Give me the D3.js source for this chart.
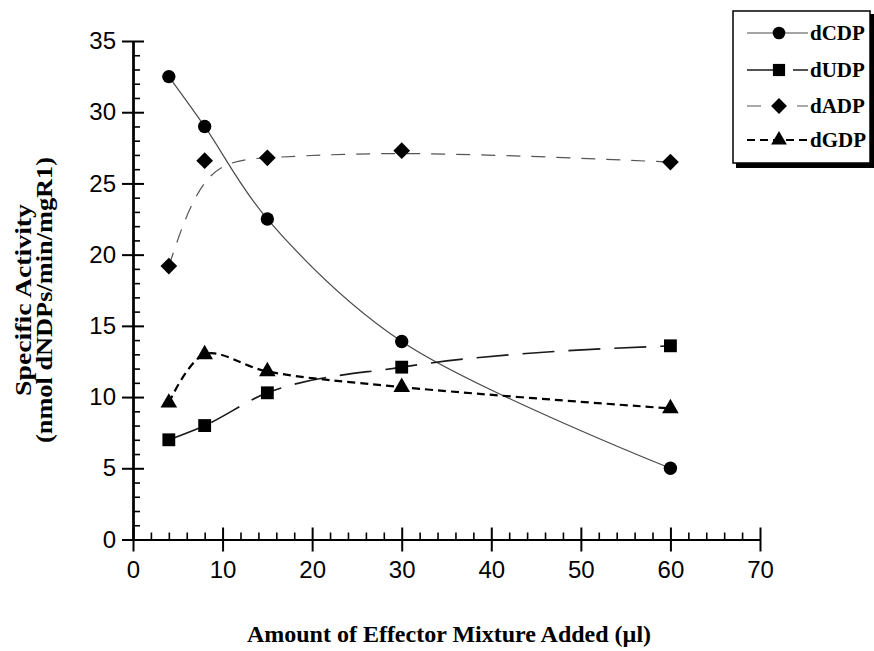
<!DOCTYPE html>
<html>
<head>
<meta charset="utf-8">
<script src="https://cdn.jsdelivr.net/npm/d3@7"></script>
<style>
  html, body { margin: 0; padding: 0; background: #fff; }
  svg { display: block; }
</style>
</head>
<body>
<svg id="chart" width="874" height="651"></svg>
<script>
// Effector volume (µl) on the x axis
const volumes = [4, 8, 15, 30, 60];

// Specific activity (nmol dNDPs/min/mgR1) per product
const dCDP = [32.5, 29.0, 22.5, 13.9, 5.0];
const dUDP = [7.0, 8.0, 10.3, 12.1, 13.6];
const dADP = [19.2, 26.6, 26.8, 27.3, 26.5];
const dGDP = [9.6, 13.0, 11.8, 10.7, 9.2];

const seriesNames = ["dCDP", "dUDP", "dADP", "dGDP"];

const xTicks = [0, 10, 20, 30, 40, 50, 60, 70];
const xMinorTicks = d3.range(0, 71, 2).filter(v => v % 10 !== 0);
const yTicks = [0, 5, 10, 15, 20, 25, 30, 35];
const yMinorTicks = d3.range(0, 36, 1).filter(v => v % 5 !== 0);

const xTitle = "Amount of Effector Mixture Added (µl)";
const yTitleLines = ["Specific Activity", "(nmol dNDPs/min/mgR1)"];

const svg = d3.select("#chart");
svg.append("rect").attr("width", 874).attr("height", 651).attr("fill", "#fff");

const x = d3.scaleLinear().domain([0, 70]).range([133, 760]);
const y = d3.scaleLinear().domain([0, 35]).range([539.5, 41]);

const sansFont = "'Liberation Sans', Arial, Helvetica, sans-serif";
const serifFont = "'Liberation Serif', 'Times New Roman', Times, serif";

// Per-series drawing styles
const styles = {
  dCDP: { data: dCDP, symbol: d3.symbolCircle, size: 140, rotate: 0, dash: null, width: 1.2, color: "#4a4a4a", curve: d3.curveCatmullRom },
  dUDP: { data: dUDP, symbol: d3.symbolSquare, size: 165, rotate: 0, dash: "32,14", width: 1.7, color: "#1a1a1a", curve: d3.curveMonotoneX },
  dADP: { data: dADP, symbol: d3.symbolSquare, size: 140, rotate: 45, dash: "14,11", width: 1.2, color: "#555", curve: d3.curveBasis },
  dGDP: { data: dGDP, symbol: d3.symbolTriangle, size: 120, rotate: 0, dash: "8,5", width: 2.2, color: "#000", curve: d3.curveCatmullRom }
};

// ----- Axes -----
const axisG = svg.append("g");

function styleAxis(g) {
  g.selectAll("path.domain").attr("stroke", "#000").attr("stroke-width", 2);
  g.selectAll(".tick line").attr("stroke", "#000").attr("stroke-width", 2);
}

// y axis: labelled major ticks outside, inner halves, inner minor ticks
const yOuter = axisG.append("g").attr("transform", `translate(${x(0)},0)`)
  .call(d3.axisLeft(y).tickValues(yTicks).tickSize(11).tickSizeOuter(0).tickPadding(6).tickFormat(d3.format("d")));
yOuter.selectAll(".tick text").attr("font-family", sansFont).attr("font-size", 24).attr("fill", "#000");
styleAxis(yOuter);
const yInner = axisG.append("g").attr("transform", `translate(${x(0)},0)`)
  .call(d3.axisRight(y).tickValues(yTicks).tickSize(11).tickSizeOuter(0).tickFormat(""));
styleAxis(yInner);
const yMinor = axisG.append("g").attr("transform", `translate(${x(0)},0)`)
  .call(d3.axisRight(y).tickValues(yMinorTicks).tickSize(7).tickSizeOuter(0).tickFormat(""));
styleAxis(yMinor);
yMinor.selectAll(".tick line").attr("stroke-width", 1.6);

// x axis
const xOuter = axisG.append("g").attr("transform", `translate(0,${y(0)})`)
  .call(d3.axisBottom(x).tickValues(xTicks).tickSize(12).tickSizeOuter(0).tickPadding(9).tickFormat(d3.format("d")));
xOuter.selectAll(".tick text").attr("font-family", sansFont).attr("font-size", 24).attr("fill", "#000");
styleAxis(xOuter);
const xInner = axisG.append("g").attr("transform", `translate(0,${y(0)})`)
  .call(d3.axisTop(x).tickValues(xTicks).tickSize(12).tickSizeOuter(0).tickFormat(""));
styleAxis(xInner);
const xMinor = axisG.append("g").attr("transform", `translate(0,${y(0)})`)
  .call(d3.axisTop(x).tickValues(xMinorTicks).tickSize(7).tickSizeOuter(0).tickFormat(""));
styleAxis(xMinor);
xMinor.selectAll(".tick line").attr("stroke-width", 1.6);

// ----- Axis titles -----
svg.append("text")
  .attr("x", 449).attr("y", 642)
  .attr("text-anchor", "middle")
  .attr("font-family", serifFont).attr("font-weight", "bold").attr("font-size", 24)
  .text(xTitle);

const yTitle = svg.append("g").attr("transform", "translate(0,300) rotate(-90)");
yTitle.append("text")
  .attr("x", 0).attr("y", 31)
  .attr("text-anchor", "middle")
  .attr("font-family", serifFont).attr("font-weight", "bold").attr("font-size", 24)
  .attr("textLength", 192).attr("lengthAdjust", "spacingAndGlyphs")
  .text(yTitleLines[0]);
yTitle.append("text")
  .attr("x", 0).attr("y", 52)
  .attr("text-anchor", "middle")
  .attr("font-family", serifFont).attr("font-weight", "bold").attr("font-size", 24)
  .attr("textLength", 286).attr("lengthAdjust", "spacingAndGlyphs")
  .text(yTitleLines[1]);

// ----- Series -----
const plot = svg.append("g");
seriesNames.forEach(name => {
  const s = styles[name];
  const pts = volumes.map((v, i) => [v, s.data[i]]);
  const line = d3.line().x(d => x(d[0])).y(d => y(d[1])).curve(s.curve);
  plot.append("path")
    .attr("d", line(pts))
    .attr("fill", "none")
    .attr("stroke", s.color)
    .attr("stroke-width", s.width)
    .attr("stroke-dasharray", s.dash);
});
seriesNames.forEach(name => {
  const s = styles[name];
  const sym = d3.symbol().type(s.symbol).size(s.size);
  plot.selectAll(null)
    .data(volumes.map((v, i) => [v, s.data[i]]))
    .join("path")
    .attr("d", sym)
    .attr("transform", d => `translate(${x(d[0])},${y(d[1])}) rotate(${s.rotate})`)
    .attr("fill", "#000");
});

// ----- Legend -----
const legend = svg.append("g");
legend.append("rect")
  .attr("x", 736).attr("y", 14).attr("width", 140).attr("height", 154)
  .attr("fill", "#000");
legend.append("rect")
  .attr("x", 733).attr("y", 11).attr("width", 137).attr("height", 152)
  .attr("fill", "#fff").attr("stroke", "#000").attr("stroke-width", 1.5);

const legendRows = [33, 70, 106, 140];
seriesNames.forEach((name, i) => {
  const s = styles[name];
  const ly = legendRows[i];
  legend.append("line")
    .attr("x1", 747).attr("x2", 808).attr("y1", ly).attr("y2", ly)
    .attr("stroke", s.color)
    .attr("stroke-width", s.width)
    .attr("stroke-dasharray", s.dash);
  legend.append("path")
    .attr("d", d3.symbol().type(s.symbol).size(s.size * 0.9)())
    .attr("transform", `translate(779,${ly}) rotate(${s.rotate})`)
    .attr("fill", "#000");
  legend.append("text")
    .attr("x", 810).attr("y", ly + 7)
    .attr("font-family", serifFont).attr("font-weight", "bold").attr("font-size", 21)
    .text(name);
});
</script>
</body>
</html>
